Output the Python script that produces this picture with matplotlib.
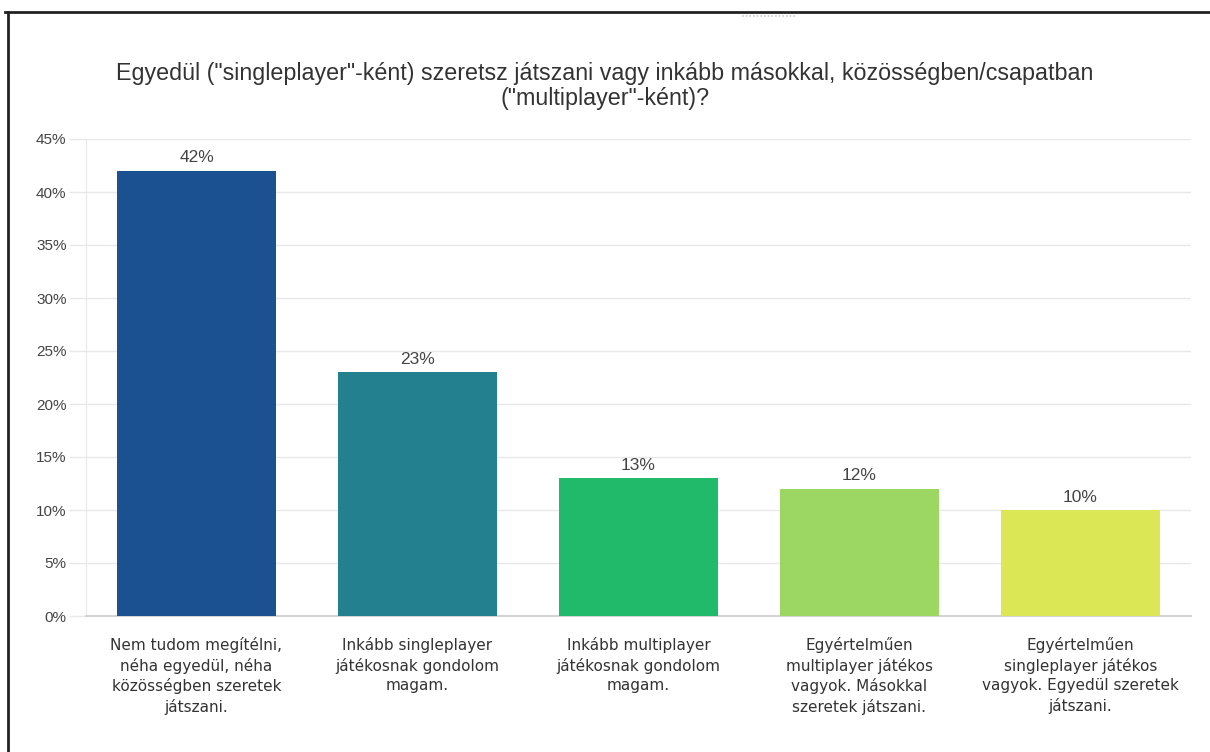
import matplotlib
matplotlib.use("Agg")
import matplotlib.pyplot as plt
from matplotlib.lines import Line2D

# Survey answers (share of respondents, %)
categories = [
    "Nem tudom megítélni,\nnéha egyedül, néha\nközösségben szeretek\njátszani.",
    "Inkább singleplayer\njátékosnak gondolom\nmagam.",
    "Inkább multiplayer\njátékosnak gondolom\nmagam.",
    "Egyértelműen\nmultiplayer játékos\nvagyok. Másokkal\nszeretek játszani.",
    "Egyértelműen\nsingleplayer játékos\nvagyok. Egyedül szeretek\njátszani.",
]
values = [42, 23, 13, 12, 10]
colors = ["#1b5190", "#23818f", "#21ba6b", "#9dd763", "#dbe754"]
y_ticks = [0, 5, 10, 15, 20, 25, 30, 35, 40, 45]
title = ('Egyedül ("singleplayer"-ként) szeretsz játszani vagy inkább másokkal, közösségben/csapatban\n'
         '("multiplayer"-ként)?')

fig = plt.figure(figsize=(12.10, 7.52), dpi=100)
fig.patch.set_facecolor("white")
ax = fig.add_axes([86 / 1210, 136 / 752, 1105 / 1210, 477 / 752])

x = range(len(categories))
ax.bar(x, values, width=0.72, color=colors, zorder=3)
for xi, v in zip(x, values):
    ax.text(xi, v + 0.5, f"{v}%", ha="center", va="bottom",
            fontsize=12.5, color="#444444", family="Liberation Sans", zorder=4)

ax.set_xlim(-0.5, len(categories) - 0.5)
ax.set_ylim(0, 45)
ax.set_yticks(y_ticks)
ax.set_yticklabels([f"{t}%" for t in y_ticks], family="Liberation Sans",
                   fontsize=11, color="#444444")
ax.tick_params(axis="y", length=12, width=1, color="#e8e8e8", pad=2)
ax.grid(axis="y", color="#e8e8e8", linewidth=1, zorder=0)

ax.set_xticks(list(x))
ax.set_xticklabels(categories, family="DejaVu Sans", fontsize=11,
                   color="#333333", linespacing=1.37)
ax.tick_params(axis="x", length=0, pad=15)

for side in ("top", "right"):
    ax.spines[side].set_visible(False)
ax.spines["left"].set_color("#e8e8e8")
ax.spines["bottom"].set_color("#d4d4d4")
ax.spines["bottom"].set_linewidth(1.5)

fig.text(605 / 1210, 1 - 86 / 752, title, ha="center", va="center",
         fontsize=16.75, color="#333333", family="Liberation Sans", linespacing=1.08)

# Panel frame around the chart
fig.add_artist(Line2D([5 / 1210, 1.0], [1 - 12 / 752, 1 - 12 / 752],
                      transform=fig.transFigure, color="#222222", linewidth=2))
fig.add_artist(Line2D([8 / 1210, 8 / 1210], [0.0, 1 - 12 / 752],
                      transform=fig.transFigure, color="#222222", linewidth=2))
fig.add_artist(Line2D([742 / 1210, 797 / 1210], [1 - 16 / 752, 1 - 16 / 752],
                      transform=fig.transFigure, color="#cccccc", linewidth=1.2,
                      linestyle=(0, (1, 1.2))))

fig.savefig("out.png", dpi=100)
